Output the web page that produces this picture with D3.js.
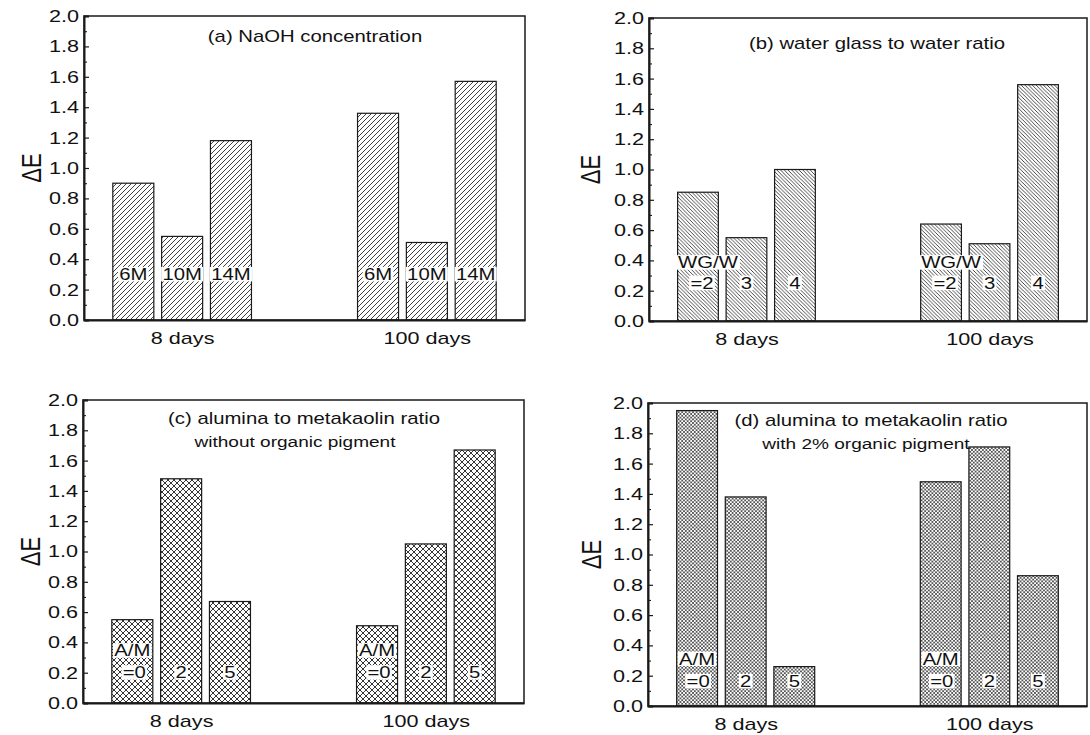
<!DOCTYPE html>
<html>
<head>
<meta charset="utf-8">
<script src="https://cdn.jsdelivr.net/npm/d3@7"></script>
<style>
  body { margin: 0; background: #fff; }
  svg { display: block; }
  text { font-family: "Liberation Sans", Arial, sans-serif; fill: #111; }
</style>
</head>
<body>
<svg id="chart" width="1090" height="735"></svg>
<script>
// ---- data ----
const categories = ["8 days", "100 days"];
const yTicks = [0.0, 0.2, 0.4, 0.6, 0.8, 1.0, 1.2, 1.4, 1.6, 1.8, 2.0];
const yMinorTicks = [0.1, 0.3, 0.5, 0.7, 0.9, 1.1, 1.3, 1.5, 1.7, 1.9];

// (a) NaOH concentration
const naohLabels = [["6M"], ["10M"], ["14M"]];
const naohDay8 = [0.90, 0.55, 1.18];
const naohDay100 = [1.36, 0.51, 1.57];

// (b) water glass to water ratio
const wgLabels = [["WG/W", "=2"], ["3"], ["4"]];
const wgDay8 = [0.85, 0.55, 1.00];
const wgDay100 = [0.64, 0.51, 1.56];

// (c) alumina to metakaolin ratio, no pigment
const amLabels = [["A/M", "=0"], ["2"], ["5"]];
const amDay8 = [0.55, 1.48, 0.67];
const amDay100 = [0.51, 1.05, 1.67];

// (d) alumina to metakaolin ratio, 2% organic pigment
const amPigDay8 = [1.95, 1.38, 0.26];
const amPigDay100 = [1.48, 1.71, 0.86];

const titleA = ["(a) NaOH concentration"];
const titleB = ["(b) water glass to water ratio"];
const titleC = ["(c) alumina to metakaolin ratio", "without organic pigment"];
const titleD = ["(d) alumina to metakaolin ratio", "with 2% organic pigment"];

// ---- layout ----
const SX = 1.27;           // horizontal text stretch
const INK = "#1a1a1a";

const panels = [
  { L: 84,  R: 525,  T: 16,  B: 320, day8: naohDay8,  day100: naohDay100,  labels: naohLabels, pattern: "hatchFwd",
    title: titleA, titleX: 315, titleY: [42], yLabX: 31,
    lab: { low: 0.30, high: 0.30, dx1: 0, dx2: 0 } },
  { L: 649, R: 1087, T: 18,  B: 321, day8: wgDay8,    day100: wgDay100,    labels: wgLabels,   pattern: "hatchBack",
    title: titleB, titleX: 877, titleY: [49], yLabX: 590,
    lab: { low: 0.25, high: 0.385, dx1: 10, dx2: 4 } },
  { L: 83,  R: 524,  T: 400, B: 703, day8: amDay8,    day100: amDay100,    labels: amLabels,   pattern: "crossWide",
    title: titleC, titleX: 304, titleY: [424, 447], yLabX: 30,
    lab: { low: 0.20, high: 0.345, dx1: 0, dx2: 2 } },
  { L: 648, R: 1087, T: 403, B: 706, day8: amPigDay8, day100: amPigDay100, labels: amLabels,   pattern: "crossFine",
    title: titleD, titleX: 871, titleY: [426, 449], yLabX: 591,
    lab: { low: 0.163, high: 0.31, dx1: 0, dx2: 1 } }
];

const svg = d3.select("#chart");
const defs = svg.append("defs");

// hatch fills
function linePattern(id, size, paths, width, color) {
  const p = defs.append("pattern").attr("id", id).attr("patternUnits", "userSpaceOnUse")
    .attr("width", size).attr("height", size);
  p.append("rect").attr("width", size).attr("height", size).attr("fill", "#fff");
  p.append("path").attr("d", paths).attr("stroke", color || "#2a2a2a").attr("stroke-width", width).attr("fill", "none");
}
function fwd(s) { return `M0,${s} L${s},0 M${-s/2},${s/2} L${s/2},${-s/2} M${s/2},${s*1.5} L${s*1.5},${s/2}`; }
function back(s) { return `M0,0 L${s},${s} M${-s/2},${s/2} L${s/2},${s*1.5} M${s/2},${-s/2} L${s*1.5},${s/2}`; }
linePattern("hatchFwd", 5, fwd(5), 0.9);
linePattern("hatchBack", 3.7, back(3.7), 0.85);
linePattern("crossWide", 6, fwd(6) + " " + back(6), 0.95);
linePattern("crossFine", 3.6, fwd(3.6) + " " + back(3.6), 0.75, "#333");

function stretchedText(g, x, y, str, size, anchor) {
  const t = g.append("g").attr("transform", `translate(${x},${y}) scale(${SX},1)`);
  t.append("text").attr("text-anchor", anchor || "middle").style("font-size", size + "px").text(str);
  return t;
}

function barLabel(g, x, y, str) {
  const t = g.append("g").attr("transform", `translate(${x},${y}) scale(${SX},1)`);
  const txt = t.append("text").attr("text-anchor", "middle").attr("dy", "0.35em")
    .style("font-size", "16px").text(str);
  const bb = txt.node().getBBox();
  t.insert("rect", "text").attr("x", bb.x - 1).attr("y", -7.5)
    .attr("width", bb.width + 2).attr("height", 14.5).attr("fill", "#fff");
}

panels.forEach(P => {
  const g = svg.append("g");
  const y = d3.scaleLinear().domain([0, 2]).range([P.B, P.T]);
  const x0 = d3.scalePoint().domain(categories).range([P.L, P.R]).padding(0.401);
  const span = 0.3144 * (P.R - P.L);
  const x1 = d3.scaleBand().domain([0, 1, 2]).range([-span / 2, span / 2]).paddingInner(0.16);

  const bars = [];
  [P.day8, P.day100].forEach((vals, ci) => {
    vals.forEach((v, i) => bars.push({ cat: categories[ci], i, v }));
  });

  g.selectAll("rect.bar").data(bars).join("rect")
    .attr("class", "bar")
    .attr("x", d => x0(d.cat) + x1(d.i))
    .attr("y", d => y(d.v))
    .attr("width", x1.bandwidth())
    .attr("height", d => y(0) - y(d.v))
    .attr("fill", `url(#${P.pattern})`)
    .attr("stroke", INK).attr("stroke-width", 1.2);

  // labels inside the bars
  bars.forEach(d => {
    const cx = x0(d.cat) + x1(d.i) + x1.bandwidth() / 2;
    const lines = P.labels[d.i];
    if (lines.length === 1) {
      barLabel(g, cx, y(P.lab.low), lines[0]);
    } else {
      barLabel(g, cx + P.lab.dx1, y(P.lab.high), lines[0]);
      barLabel(g, cx + P.lab.dx2, y(P.lab.low), lines[1]);
    }
  });

  // frame
  g.append("rect").attr("x", P.L).attr("y", P.T).attr("width", P.R - P.L).attr("height", P.B - P.T)
    .attr("fill", "none").attr("stroke", INK).attr("stroke-width", 1.5);

  // y axis: major + minor ticks pointing inward
  const ya = g.append("g").attr("transform", `translate(${P.L},0)`)
    .call(d3.axisLeft(y).tickValues(yTicks).tickSize(-5).tickPadding(5).tickFormat(d3.format(".1f")));
  ya.attr("font-family", null).attr("font-size", null);
  ya.select(".domain").attr("stroke", INK).attr("stroke-width", 2);
  ya.selectAll(".tick line").attr("stroke", INK).attr("stroke-width", 1.2);
  ya.selectAll(".tick text").style("font-size", "17px")
    .attr("x", -5 / SX).attr("transform", `scale(${SX},1)`).attr("fill", "#111");

  const ym = g.append("g").attr("transform", `translate(${P.L},0)`)
    .call(d3.axisLeft(y).tickValues(yMinorTicks).tickSize(-3).tickFormat(""));
  ym.select(".domain").remove();
  ym.selectAll(".tick line").attr("stroke", INK).attr("stroke-width", 1.1);

  // x axis
  const xa = g.append("g").attr("transform", `translate(0,${P.B})`)
    .call(d3.axisBottom(x0).tickSize(0).tickPadding(12.2));
  xa.attr("font-family", null).attr("font-size", null);
  xa.select(".domain").attr("stroke", INK).attr("stroke-width", 2);
  xa.selectAll(".tick text").style("font-size", "17px")
    .attr("transform", `scale(${SX},1)`).attr("fill", "#111");

  // y title
  const ymid = (P.T + P.B) / 2;
  g.append("text")
    .attr("transform", `translate(${P.yLabX},${ymid}) scale(${SX},1) rotate(-90)`)
    .attr("text-anchor", "middle").attr("dy", "0.36em")
    .style("font-size", "22px").text("ΔE");

  // panel title
  P.title.forEach((line, li) => {
    stretchedText(g, P.titleX + (li === 1 ? -(P.titleX > 600 ? 5 : 9) : 0), P.titleY[li], line, li === 0 ? 16 : 15);
  });
});
</script>
</body>
</html>
